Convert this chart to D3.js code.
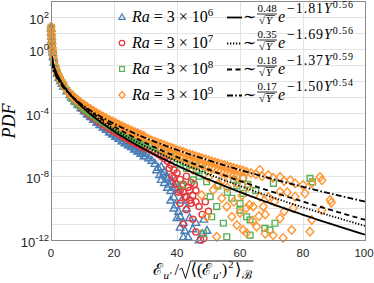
<!DOCTYPE html>
<html lang="en">
<head>
<meta charset="UTF-8">
<title>PDF tails</title>
<script src="https://d3js.org/d3.v7.min.js"></script>
<style>
  body { margin: 0; background: #fff; }
  svg { display: block; }
</style>
</head>
<body>
<div id="chart"></div>
<script>
// ---- data (log10 of PDF) ----
// dense part of every curve, shared abscissa
const bandY = [0.05, 0.1, 0.15, 0.2, 0.3, 0.4, 0.5, 0.7, 1, 1.5, 2, 2.5, 3, 3.5, 4, 5, 6,
  7, 8, 9, 10, 11, 12, 13, 14, 15, 16, 17, 18, 19, 20, 21, 22, 23, 24, 25, 26, 27, 28, 29, 30];
const halfY = [6.5, 7.5, 8.5, 9.5, 10.5, 11.5, 12.5, 13.5, 14.5, 15.5, 16.5, 17.5, 18.5, 19.5,
  20.5, 21.5, 22.5, 23.5, 24.5, 25.5, 26.5, 27.5, 28.5, 29.5];

const blueBand = [1.3, 1.05, 0.8, 0.55, 0.25, 0.0, -0.2, -0.5, -0.85, -1.25, -1.55, -1.8, -2.0, -2.17, -2.34, -2.64, -2.88,
  -3.10, -3.32, -3.53, -3.73, -3.92, -4.10, -4.27, -4.44, -4.60, -4.76, -4.91, -5.06, -5.21, -5.35, -5.49, -5.63, -5.76, -5.89, -6.01, -6.14, -6.27, -6.40, -6.55, -6.70];
const blueHalf = [-3.03, -3.27, -3.48, -3.70, -3.88, -4.08, -4.25, -4.43, -4.60, -4.75, -4.92, -5.06, -5.22, -5.35,
  -5.50, -5.63, -5.78, -5.90, -6.03, -6.15, -6.30, -6.42, -6.57, -6.72];
const redBand = [1.32, 1.08, 0.82, 0.58, 0.28, 0.03, -0.18, -0.48, -0.83, -1.23, -1.53, -1.78, -1.98, -2.15, -2.32, -2.62, -2.87,
  -3.10, -3.32, -3.51, -3.71, -3.88, -4.03, -4.19, -4.33, -4.47, -4.61, -4.74, -4.87, -4.99, -5.12, -5.23, -5.35, -5.46, -5.57, -5.68, -5.79, -5.89, -6.00, -6.10, -6.20];
const redHalf = [-3.04, -3.27, -3.47, -3.68, -3.86, -4.02, -4.18, -4.32, -4.47, -4.60, -4.75, -4.87, -5.00, -5.12,
  -5.25, -5.35, -5.48, -5.58, -5.70, -5.80, -5.91, -6.01, -6.12, -6.22];
const greenBand = [1.34, 1.1, 0.84, 0.6, 0.3, 0.05, -0.16, -0.46, -0.81, -1.21, -1.51, -1.76, -1.96, -2.13, -2.3, -2.6, -2.85,
  -3.08, -3.28, -3.45, -3.62, -3.77, -3.92, -4.06, -4.20, -4.33, -4.45, -4.58, -4.70, -4.81, -4.92, -5.03, -5.14, -5.25, -5.35, -5.45, -5.55, -5.64, -5.74, -5.83, -5.92];
const greenHalf = [-3.02, -3.23, -3.42, -3.60, -3.75, -3.90, -4.05, -4.18, -4.33, -4.44, -4.58, -4.69, -4.82, -4.92,
  -5.04, -5.14, -5.26, -5.35, -5.46, -5.55, -5.66, -5.74, -5.85, -5.93];
const orangeBand = [1.38, 1.12, 0.87, 0.62, 0.32, 0.07, -0.13, -0.43, -0.78, -1.18, -1.48, -1.73, -1.93, -2.1, -2.28, -2.58, -2.83,
  -3.04, -3.21, -3.37, -3.52, -3.66, -3.79, -3.92, -4.04, -4.16, -4.27, -4.38, -4.49, -4.59, -4.69, -4.79, -4.89, -4.98, -5.07, -5.16, -5.25, -5.34, -5.42, -5.51, -5.59];
const orangeHalf = [-2.87, -3.05, -3.22, -3.37, -3.52, -3.65, -3.78, -3.90, -4.03, -4.14, -4.25, -4.36, -4.47, -4.56,
  -4.66, -4.76, -4.86, -4.95, -5.04, -5.13, -5.22, -5.30, -5.39, -5.47];

// tails: [Y, log10 PDF]
const blueTail = [[31,-6.85],[32,-7.0],[33,-7.2],[33.5,-7.6],[34,-7.45],[34.5,-7.9],[35,-7.4],[35,-8.2],[35.5,-7.9],
  [36,-7.7],[36,-8.4],[36.5,-8.0],[37,-8.1],[37,-8.7],[37.5,-8.5],[38,-8.9],[38,-9.5],[38.5,-8.3],[39,-9.3],[39,-10.0],
  [39.5,-9.8],[39.5,-8.7],[40,-8.8],[40,-10.6],[40.5,-10.2],[41,-10.5],[41,-11.2],[41.5,-9.5],[42,-10.9],[42,-11.8],
  [42.5,-11.4],[43,-10.0],[43.5,-11.8],[44,-10.6],[45,-11.3],[46,-10.9],[47,-12.0],[48,-11.6],[48.5,-10.7],[49.5,-11.4]];
const redTail = [[31,-6.30],[32,-6.40],[33,-6.50],[34,-6.62],[35,-6.75],[36,-6.9],[37,-7.05],[37.5,-7.5],[38,-7.3],
  [38.5,-8.0],[39,-7.6],[39,-8.1],[39.5,-8.5],[40,-7.8],[40,-8.5],[40.5,-9.0],[41,-8.2],[41,-8.9],[41,-9.7],[41.5,-8.6],
  [42,-8.5],[42,-9.0],[42,-11.0],[42.5,-9.3],[43,-8.0],[43,-9.3],[43,-10.1],[43.5,-8.7],[44,-8.9],[44,-9.5],[44.5,-8.4],
  [44.5,-9.7],[45,-9.2],[45,-10.7],[45.5,-8.5],[46,-8.9],[46,-9.6],[46,-11.5],[47,-9.9],[47.5,-12.0],
  [48,-10.4],[48.5,-11.9],[49,-9.6],[50,-10.2]];
const greenTail = [[31,-5.98],[32,-6.08],[33,-6.17],[34,-6.26],[35,-6.35],[36,-6.44],[37,-6.52],[38,-6.62],[39,-6.75],
  [40,-6.9],[41,-7.29],[41.5,-8.55],[42,-7.1],[43,-7.5],[44,-7.05],[44,-7.3],[45.2,-8.23],[46,-7.35],[46.2,-7.6],[47,-8.0],
  [48,-7.5],[48.4,-11.58],[49.4,-8.34],[50,-7.7],[50.5,-9.28],[51,-10.54],[52.6,-9.9],[53,-8.6],[54.7,-10.95],
  [55.8,-11.8],[56,-9.0],[57.4,-9.38],[58,-8.2],[59,-8.6],[60,-10.12],[60,-9.7],[61,-9.07],[61,-8.1],[62.1,-10.54],
  [62.5,-8.5],[63.2,-10.74],[63.2,-11.69],[65,-8.9],[67.9,-11.27],[69.5,-11.37],[70.6,-8.44],[71.1,-10.95],
  [82.2,-8.13],[83,-8.35]];
const orangeTail = [[31,-5.67],[32,-5.75],[33,-5.83],[34,-5.91],[35,-5.98],[36,-6.06],[37,-6.13],[38,-6.20],[39,-6.27],
  [40,-6.35],[41,-6.42],[42,-6.48],[43,-6.55],[44,-6.62],[45,-6.68],[46,-6.75],[47,-6.81],[48,-6.88],[49,-6.94],
  [50,-7.0],[51,-7.06],[52,-7.12],[53,-7.18],[54,-7.24],[55,-7.3],[56,-7.36],[57,-7.42],[58,-7.48],[59,-7.54],
  [60,-7.6],[61,-7.65],[62,-7.72],[63.5,-7.8],[65,-7.88],[66.3,-7.6],[67,-8.0],[69,-7.92],[70.5,-8.1],[72.7,-8.05],
  [74,-8.3],[76,-8.25],[77.5,-8.45],[80,-8.55],[82.8,-8.44],[85.4,-8.05],[86,-8.25],
  [35,-6.25],[36,-6.35],[37,-6.45],[38,-6.55],[39,-6.62],[40,-6.7],[41,-6.78],[42,-6.85],[43,-6.95],[44,-7.05],
  [45,-7.1],[46,-7.15],[47,-7.22],[48,-7.3],[49,-7.38],[50,-7.45],[51,-7.5],[52,-7.55],[53,-7.62],[54,-7.7],
  [55,-7.75],[56,-7.8],[57,-7.88],[58,-7.95],[59,-8.0],[61,-8.1],[45,-7.6],[50,-8.1],[53,-8.5],[56,-8.7],
  [47.8,-9.18],[49.4,-10.54],[51.5,-8.86],[52.6,-11.8],[54.2,-9.38],[54.6,-8.23],[55.8,-9.9],[57.4,-10.54],
  [58,-9.6],[59,-11.06],[59,-8.44],[60,-10.3],[60.6,-9.2],[61,-11.37],[62,-10.0],[62.1,-11.56],[62.6,-8.65],
  [63,-9.8],[64,-10.8],[64.2,-9.9],[65.3,-11.17],[66,-10.5],[66.3,-9.28],[67.4,-9.9],[68,-10.4],[68,-11.6],
  [69,-9.3],[70.5,-11.7],[71,-9.6],[72.7,-8.97],[72.7,-10.64],[73.7,-11.87],[74,-10.2],[75,-9.0],[76.4,-11.37],
  [76.9,-10.0],[77.5,-9.28],[80.6,-9.07],[82.2,-11.48],[82.8,-10.74],[86,-10.12],[88.6,-9.49],[89,-9.65]];

// fit parameters from the legend: a / sqrt(Y) * exp(-b * Y^c)
const raExp = [6, 7, 8, 9];
const fitA = [0.48, 0.35, 0.18, 0.17];
const fitB = [1.81, 1.69, 1.37, 1.50];
const fitC = [0.56, 0.56, 0.59, 0.54];

const xTicks = [0, 20, 40, 60, 80, 100];
const yTickExp = [-12, -8, -4, 0, 2];

// ---- styles ----
const colors = ["#4a7eb7", "#e5383c", "#59b257", "#ff9530"];
const shapes = ["tri", "circ", "sq", "dia"];
const dashes = [null, "1.3,1.7", "5,3.5", "6,2.2,1.6,2.2"];
const serif = "'Liberation Serif', 'DejaVu Serif', serif";
const sans = "'Liberation Sans', Arial, sans-serif";

const series = [
  { band: blueBand, half: blueHalf, tail: blueTail },
  { band: redBand, half: redHalf, tail: redTail },
  { band: greenBand, half: greenHalf, tail: greenTail },
  { band: orangeBand, half: orangeHalf, tail: orangeTail }
];

const svg = d3.select("#chart").append("svg")
    .attr("width", 374)
    .attr("height", 283);

const x = d3.scaleLinear().domain([0, 100]).range([51, 366]);
const y = d3.scaleLog().domain([1e-12, 1e3]).range([240, 1]);
const [x0, x1] = x.range();
const [yb, yt] = y.range();
const snap = v => Math.round(v) + 0.5;

function markerPath(shape, s) {
  if (shape == "tri") return `M0,${-s}L${s*0.95},${s*0.72}L${-s*0.95},${s*0.72}Z`;
  if (shape == "circ") return `M${s},0A${s},${s} 0 1,1 ${-s},0A${s},${s} 0 1,1 ${s},0Z`;
  if (shape == "sq") return `M${-s},${-s}H${s}V${s}H${-s}Z`;
  return `M0,${-s}L${s*0.9},0L0,${s}L${-s*0.9},0Z`;
}
const dataSize = { tri: 4, circ: 3.1, sq: 2.9, dia: 4.3 };
const legSize = { tri: 3.3, circ: 2.7, sq: 2.4, dia: 3.5 };

// grid
const grid = svg.append("g").attr("stroke", "#e3e3e3").attr("stroke-width", 1);
d3.range(-11, 3).forEach(e => {
  grid.append("line").attr("x1", x0).attr("x2", x1)
    .attr("y1", snap(y(Math.pow(10, e)))).attr("y2", snap(y(Math.pow(10, e))));
});
xTicks.slice(1, -1).forEach(t => {
  grid.append("line").attr("y1", yb).attr("y2", yt)
    .attr("x1", snap(x(t))).attr("x2", snap(x(t)));
});

// data markers
series.forEach((s, i) => {
  const pts = bandY.map((v, j) => [v, s.band[j]])
    .concat(halfY.map((v, j) => [v, s.half[j]]))
    .concat(s.tail);
  svg.append("g")
    .selectAll("path")
    .data(pts)
    .enter()
    .append("path")
      .attr("transform", d => `translate(${x(d[0])},${y(Math.pow(10, d[1]))})`)
      .attr("d", markerPath(shapes[i], dataSize[shapes[i]]))
      .attr("fill", "none")
      .attr("stroke", colors[i])
      .attr("stroke-width", 1.4);
});

// fit curves
const fitGrid = d3.range(0.3, 100.001, 0.25);
const line = d3.line().x(d => x(d[0])).y(d => y(d[1]));
fitA.forEach((a, i) => {
  const pts = fitGrid.map(v => [v, a / Math.sqrt(v) * Math.exp(-fitB[i] * Math.pow(v, fitC[i]))]);
  svg.append("path")
    .attr("d", line(pts))
    .attr("fill", "none")
    .attr("stroke", "#000")
    .attr("stroke-width", 1.8)
    .attr("stroke-dasharray", dashes[i]);
});

// axes box
svg.append("rect")
  .attr("x", x0 + 0.5).attr("y", yt + 0.5)
  .attr("width", x1 - x0 - 1).attr("height", yb - yt)
  .attr("fill", "none").attr("stroke", "#8a8a8a").attr("stroke-width", 1);

// tick labels
xTicks.forEach(t => {
  svg.append("text")
    .attr("x", Math.min(x(t), 364)).attr("y", 257)
    .attr("text-anchor", "middle")
    .style("font-family", sans).style("font-size", "11.5px").style("fill", "#262626")
    .text(t);
});
yTickExp.forEach(e => {
  const t = svg.append("text")
    .attr("x", 49).attr("y", y(Math.pow(10, e)) + 7)
    .attr("text-anchor", "end")
    .style("font-family", sans).style("font-size", "13px").style("fill", "#262626");
  t.append("tspan").text("10");
  t.append("tspan").attr("dy", -6).style("font-size", "9.5px").text(e < 0 ? "-" + (-e) : e);
});

// axis labels
svg.append("text")
  .attr("transform", "translate(15,121) rotate(-90)")
  .attr("text-anchor", "middle")
  .style("font-family", serif).style("font-style", "italic").style("font-size", "18px")
  .text("PDF");

function part(t, s, size, opts) {
  opts = opts || {};
  const sp = t.append("tspan").style("font-size", size + "px").text(s);
  if (opts.italic) sp.style("font-style", "italic");
  if (opts.dy) sp.attr("dy", opts.dy);
  if (opts.dx) sp.attr("dx", opts.dx);
  return sp;
}
function serifText(g, px, py) {
  return g.append("text").attr("x", px).attr("y", py)
    .style("font-family", serif).style("fill", "#000");
}

// x label: E_u' / sqrt(<(E_u')^2>_B)
const xb = 275;
const xl = svg.append("g");
const lt = serifText(xl, 153, xb);
part(lt, "ℰ", 16.5);
part(lt, "u′", 11, { italic: true, dy: 4, dx: 0.5 });
part(lt, "/", 16.5, { dy: -4, dx: 3 });
const rx = 153 + lt.node().getComputedTextLength() + 4;
const rt = serifText(xl, rx + 11, xb);
part(rt, "⟨(ℰ", 16.5);
part(rt, "u′", 11, { italic: true, dy: 4, dx: 0.5 });
part(rt, ")", 16.5, { dy: -4, dx: 1 });
part(rt, "2", 10.5, { dy: -7, dx: 1 });
part(rt, "⟩", 16.5, { dy: 7, dx: 1.5 });
part(rt, "ℬ", 12, { dy: 4, dx: 0.5 });
const rEnd = rx + 11 + rt.node().getComputedTextLength() + 6;
xl.append("path")
  .attr("d", `M${rx},${xb - 5.5}L${rx + 2.5},${xb - 7}L${rx + 6},${xb + 3.5}L${rx + 11},${xb - 14}H${rEnd}`)
  .attr("fill", "none").attr("stroke", "#000").attr("stroke-width", 0.9);

// legend
const rows = [17, 43, 69, 95];
rows.forEach((r, i) => {
  const g = svg.append("g");
  g.append("path")
    .attr("transform", `translate(122,${r})`)
    .attr("d", markerPath(shapes[i], legSize[shapes[i]]))
    .attr("fill", "none").attr("stroke", colors[i]).attr("stroke-width", 1.2);

  const ra = serifText(g, 132, r + 5);
  part(ra, "Ra", 16, { italic: true });
  part(ra, " = 3 × 10", 16);
  part(ra, raExp[i], 11, { dy: -6 });

  g.append("line")
    .attr("x1", 227).attr("x2", 242).attr("y1", r + 0.5).attr("y2", r + 0.5)
    .attr("stroke", "#000").attr("stroke-width", 1.8)
    .attr("stroke-dasharray", dashes[i]);

  part(serifText(g, 243, r + 5), "∼", 16);

  const num = serifText(g, 267, r - 5).attr("text-anchor", "middle");
  part(num, fitA[i].toFixed(2), 11);
  g.append("line").attr("x1", 257).attr("x2", 277).attr("y1", r - 3).attr("y2", r - 3)
    .attr("stroke", "#000").attr("stroke-width", 0.8);
  part(serifText(g, 259, r + 7), "√", 11);
  part(serifText(g, 266, r + 7), "Y", 11, { italic: true });
  g.append("line").attr("x1", 265.5).attr("x2", 275).attr("y1", r - 1.5).attr("y2", r - 1.5)
    .attr("stroke", "#000").attr("stroke-width", 0.7);

  part(serifText(g, 278, r + 5), "e", 16, { italic: true });
  const ex = serifText(g, 287, r - 4)
    .attr("textLength", 66).attr("lengthAdjust", "spacing");
  part(ex, "−" + fitB[i].toFixed(2), 14);
  part(ex, "Y", 14, { italic: true });
  part(ex, fitC[i].toFixed(2), 10, { dy: -5 });
});
</script>
</body>
</html>
